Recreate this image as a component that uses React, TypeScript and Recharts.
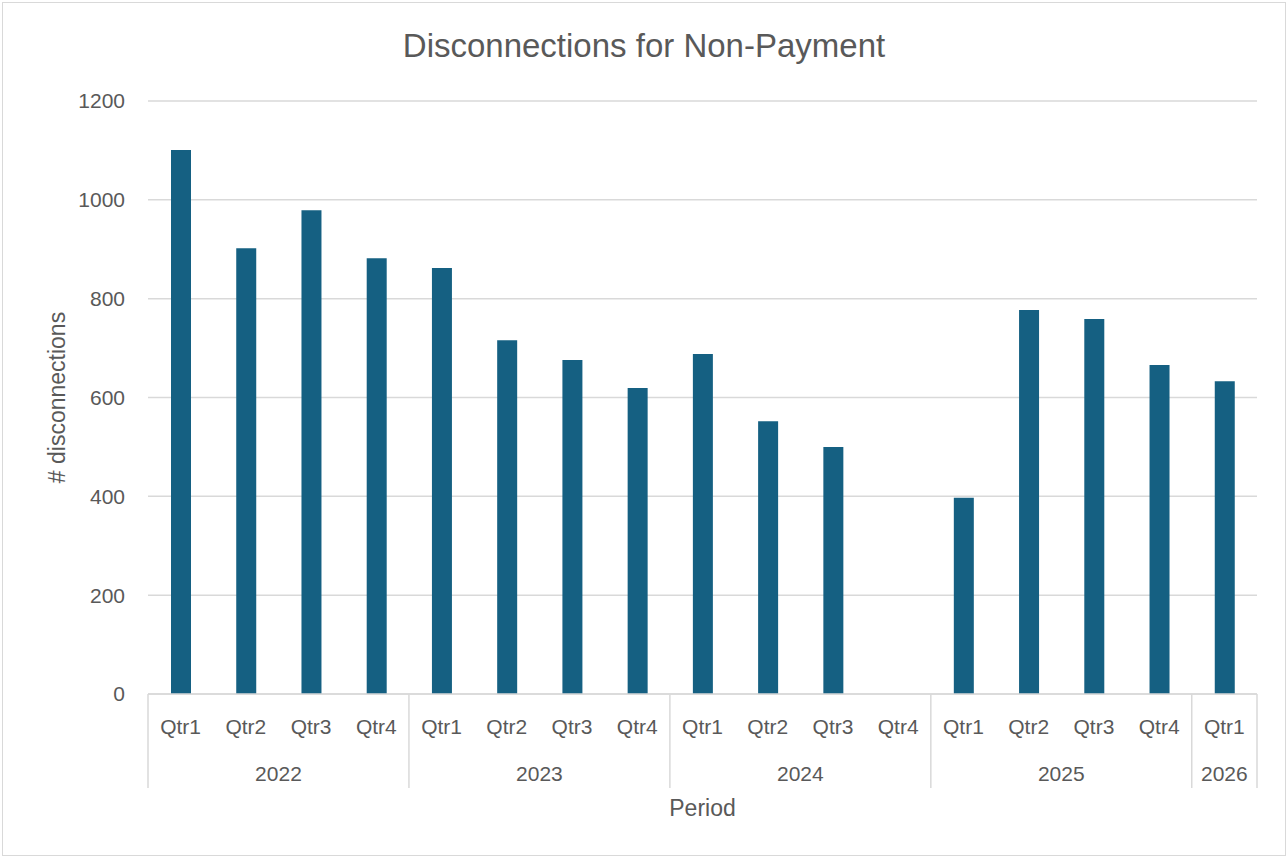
import React from "react";
import { BarChart, Bar, XAxis, YAxis, CartesianGrid } from "recharts";

const quarters = ["Qtr1", "Qtr2", "Qtr3", "Qtr4", "Qtr1", "Qtr2", "Qtr3", "Qtr4", "Qtr1", "Qtr2", "Qtr3", "Qtr4", "Qtr1", "Qtr2", "Qtr3", "Qtr4", "Qtr1"];
const years = ["2022", "2022", "2022", "2022", "2023", "2023", "2023", "2023", "2024", "2024", "2024", "2024", "2025", "2025", "2025", "2025", "2026"];
const disconnections: (number | null)[] = [1101, 902, 979, 882, 862, 716, 676, 619, 688, 552, 500, null, 397, 777, 759, 666, 633];
const yTicks = [0, 200, 400, 600, 800, 1000, 1200];

const data = quarters.map((q, i) => ({ key: `${years[i]}-${q}`, quarter: q, year: years[i], value: disconnections[i] }));

const W = 1288;
const H = 858;
const M = { top: 101, right: 31, left: 0, bottom: 34 };
const YW = 148;
const HALF = (W - M.right - M.left - YW) / data.length / 2;
const TEXT = "#595959";
const GRID = "#d9d9d9";
const FONT = "'Liberation Sans', Arial, sans-serif";

const Tick = (props: any) => {
  const { x, y, index } = props;
  const year = years[index];
  const isFirst = index === 0 || years[index - 1] !== year;
  const isLast = index === years.length - 1;
  const size = years.filter((v) => v === year).length;
  return (
    <g>
      <text x={x} y={y + 32} textAnchor="middle" dominantBaseline="central" fill={TEXT} fontSize={21} fontFamily={FONT}>
        {quarters[index]}
      </text>
      {isFirst && (
        <>
          <line x1={x - HALF} x2={x - HALF} y1={y} y2={y + 94} stroke={GRID} strokeWidth={1.5} />
          <text x={x - HALF + size * HALF} y={y + 79} textAnchor="middle" dominantBaseline="central" fill={TEXT} fontSize={21} fontFamily={FONT}>
            {year}
          </text>
        </>
      )}
      {isLast && <line x1={x + HALF} x2={x + HALF} y1={y} y2={y + 94} stroke={GRID} strokeWidth={1.5} />}
    </g>
  );
};

export default function App() {
  return (
    <div style={{ position: "absolute", left: 0, top: 0, width: W, height: H, background: "#fff", fontFamily: FONT }}>
      <div style={{ position: "absolute", left: 2, top: 2, width: W - 6, height: H - 6, border: `1.5px solid ${GRID}` }} />
      <div style={{ position: "absolute", left: 0, top: 26, width: W, textAlign: "center", fontSize: 33, color: TEXT, lineHeight: "40px" }}>
        Disconnections for Non-Payment
      </div>
      <div style={{ position: "absolute", left: 0, top: 0 }}>
        <BarChart width={W} height={H} data={data} margin={M}>
          <CartesianGrid vertical={false} stroke={GRID} strokeWidth={1.5} />
          <XAxis
            dataKey="key"
            interval={0}
            tickLine={false}
            tickSize={0}
            tickMargin={0}
            axisLine={{ stroke: GRID, strokeWidth: 1.5 }}
            height={130}
            tick={<Tick />}
            label={{ value: "Period", position: "insideBottom", offset: 8, fill: TEXT, fontSize: 23, fontFamily: FONT }}
          />
          <YAxis
            width={YW}
            domain={[0, 1200]}
            ticks={yTicks}
            tickLine={false}
            axisLine={false}
            tickSize={0}
            tickMargin={23}
            tick={{ fill: TEXT, fontSize: 21, fontFamily: FONT }}
            label={{ value: "# disconnections", angle: -90, position: "center", dx: -17, fill: TEXT, fontSize: 23, fontFamily: FONT }}
          />
          <Bar dataKey="value" fill="#156082" barSize={20} isAnimationActive={false} />
        </BarChart>
      </div>
    </div>
  );
}
